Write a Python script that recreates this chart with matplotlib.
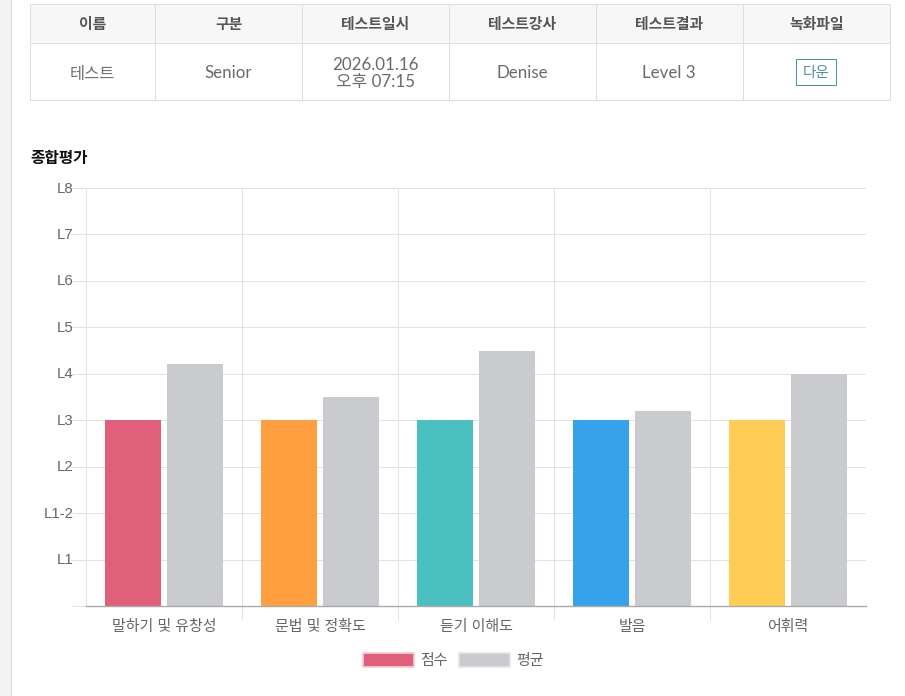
import matplotlib
matplotlib.use("Agg")
import matplotlib.pyplot as plt
from matplotlib.patches import Patch, Rectangle
from matplotlib.transforms import ScaledTranslation

W, H = 905, 696
CJK = ['Noto Sans CJK KR', 'DejaVu Sans']
CHART = ['Liberation Sans', 'Noto Sans CJK KR']
BODY = ['Lato', 'Noto Sans CJK KR']

categories = ['말하기 및 유창성', '문법 및 정확도', '듣기 이해도', '발음', '어휘력']
level_labels = ['', 'L1', 'L1-2', 'L2', 'L3', 'L4', 'L5', 'L6', 'L7', 'L8']
score = [4, 4, 4, 4, 4]
average = [5.2, 4.5, 5.5, 4.2, 5.0]
score_colors = ['#e0607c', '#ff9f40', '#4bc0c0', '#36a2eb', '#ffcd56']
average_color = '#c9cbcf'

table_headers = ['이름', '구분', '테스트일시', '테스트강사', '테스트결과', '녹화파일']
table_values = ['테스트', 'Senior', '2026.01.16\n오후 07:15', 'Denise', 'Level 3', '다운']
section_title = '종합평가'
legend_labels = ['점수', '평균']

fig = plt.figure(figsize=(W / 100, H / 100), dpi=100, facecolor='white')

# page layer in pixel coordinates
bg = fig.add_axes([0, 0, 1, 1])
bg.set_xlim(0, W)
bg.set_ylim(H, 0)
bg.axis('off')
bg.add_patch(Rectangle((0, 0), 11, H, fc='#f3f3f3', ec='none'))
bg.plot([10.5, 10.5], [0, H], color='#dddddd', lw=0.72)

col_x = [29.5, 154.5, 301.5, 448.5, 595.5, 742.5, 889.5]
row_y = [3.5, 42.5, 99.5]
line = '#dedede'
bg.add_patch(Rectangle((col_x[0], row_y[0]), col_x[-1] - col_x[0], row_y[1] - row_y[0],
                       fc='#f7f7f7', ec='none'))
for x in col_x:
    bg.plot([x, x], [row_y[0], row_y[-1]], color=line, lw=0.72)
for y in row_y:
    bg.plot([col_x[0], col_x[-1]], [y, y], color=line, lw=0.72)
for i, (h, v) in enumerate(zip(table_headers, table_values)):
    cx = (col_x[i] + col_x[i + 1]) / 2
    bg.text(cx + 0.5, 23.5, h, ha='center', va='center', family=CJK, fontsize=10.7,
            fontweight='bold', color='#555555')
    if i == 5:
        bg.text(cx, 73, v, ha='center', va='center', family=CJK, fontsize=10.5,
                color='#4f8f9f')
        bg.add_patch(Rectangle((795.5, 58.5), 40, 26, fc='none', ec='#4f8f9f', lw=0.72))
    elif i == 0:
        bg.text(cx, 74.5, v, ha='center', va='center', family=CJK, fontsize=11.8,
                color='#707070')
    else:
        bg.text(cx, 73.5, v, ha='center', va='center', family=BODY, fontsize=12.2,
                color='#6a6a6a', linespacing=1.0)
bg.text(30, 158, section_title, ha='left', va='center', family=CJK, fontsize=11.3,
        fontweight='bold', color='#111111')

# chart
L, R, T, B = 86, 866, 188, 606
ax = fig.add_axes([L / W, 1 - B / H, (R - L) / W, (B - T) / H])
ax.patch.set_alpha(0)
x = list(range(len(categories)))
centers = [i + 0.5 for i in x]
ax.bar([c - 0.2 for c in centers], score, width=0.358, color=score_colors, zorder=3)
ax.bar([c + 0.2 for c in centers], average, width=0.358, color=average_color, zorder=3)
ax.set_xlim(0, len(categories))
ax.set_ylim(0, len(level_labels) - 1)
for s in ax.spines.values():
    s.set_visible(False)

grid = '#e2e2e2'
ax.set_yticks(range(len(level_labels)))
ax.set_yticklabels(level_labels, family=CHART, fontsize=10.8, color='#666666')
ax.tick_params(axis='y', length=10.5, color=grid, width=0.72, pad=-1.5)
ax.yaxis.grid(True, color=grid, lw=0.72, zorder=0)
ax.set_axisbelow(True)
up = ScaledTranslation(0, 1 / 100, fig.dpi_scale_trans)
for lab in ax.get_yticklabels():
    lab.set_transform(lab.get_transform() + up)
    lab.set_zorder(6)

ax.set_xticks(centers)
ax.set_xticklabels(categories, family=CHART, fontsize=10.8, color='#666666')
ax.tick_params(axis='x', which='major', length=0, pad=10)
ax.set_xticks(x, minor=True)
ax.tick_params(axis='x', which='minor', length=10, color=grid, width=0.72)
ax.xaxis.grid(True, which='minor', color=grid, lw=0.72, zorder=0)
ax.xaxis.get_minor_ticks()[0].tick1line.set_visible(False)

ax.yaxis.get_major_ticks()[0].tick1line.set_color('#aaaaaa')
ax.axhline(0, color='#aaaaaa', lw=1, zorder=4, clip_on=False)

fig.legend(handles=[Patch(fc=score_colors[0], ec='#f0d0d8', lw=1.2, label=legend_labels[0]),
                    Patch(fc=average_color, ec='#e4e4e4', lw=1.2, label=legend_labels[1])],
           loc='center', bbox_to_anchor=(453.5 / W, 1 - 660.5 / H), ncol=2, frameon=False,
           prop={'family': CHART, 'size': 10.8}, handlelength=3.4, handleheight=1.05,
           handletextpad=0.45, columnspacing=0.72, labelcolor='#666666')

fig.savefig('out.png', dpi=100, facecolor='white')
